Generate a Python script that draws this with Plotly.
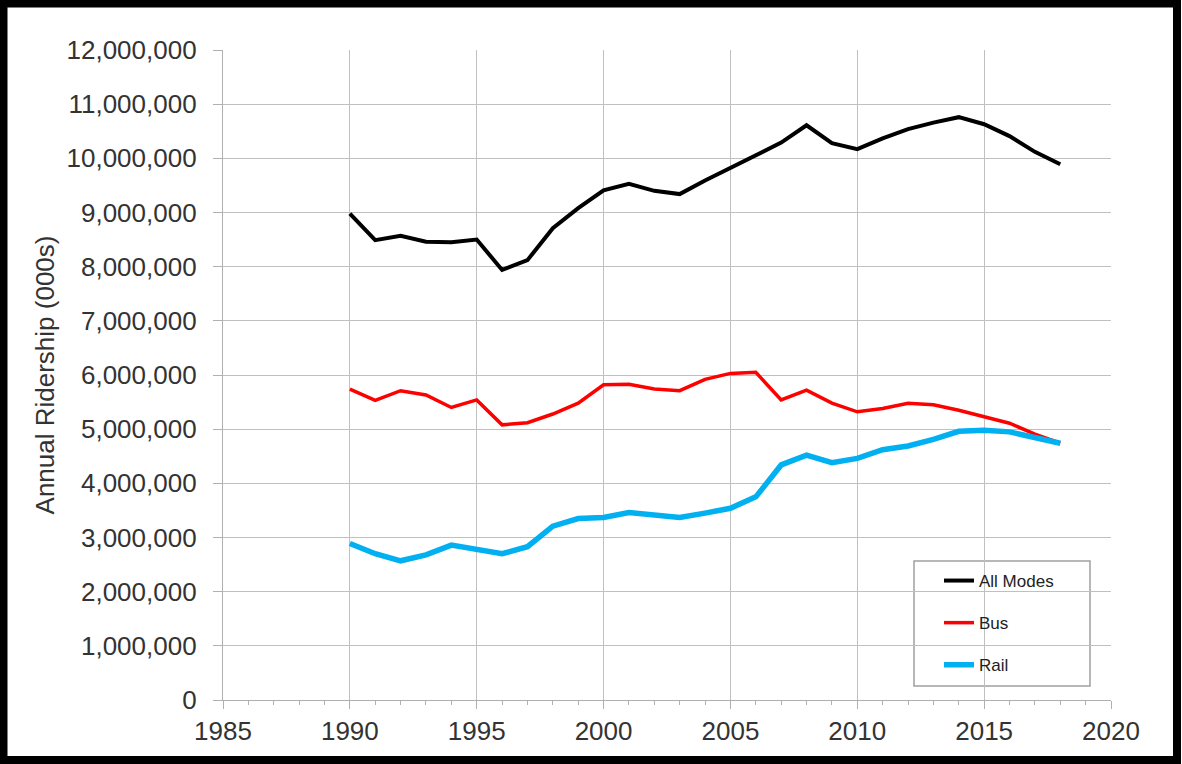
import plotly.graph_objects as go

years = list(range(1990, 2019))
all_modes = [8.98, 8.49, 8.57, 8.46, 8.45, 8.50, 7.94, 8.12, 8.71, 9.08,
             9.41, 9.53, 9.40, 9.34, 9.59, 9.82, 10.04, 10.29, 10.61, 10.28,
             10.17, 10.37, 10.54, 10.66, 10.76, 10.63, 10.41, 10.12, 9.89]
bus = [5.74, 5.53, 5.71, 5.63, 5.40, 5.54, 5.08, 5.12, 5.28, 5.48,
       5.82, 5.83, 5.74, 5.71, 5.92, 6.03, 6.05, 5.54, 5.72, 5.48,
       5.32, 5.38, 5.48, 5.45, 5.35, 5.23, 5.11, 4.91, 4.74]
rail = [2.89, 2.70, 2.57, 2.68, 2.86, 2.77, 2.70, 2.83, 3.21, 3.35,
        3.37, 3.46, 3.42, 3.37, 3.45, 3.54, 3.75, 4.34, 4.52, 4.38,
        4.46, 4.62, 4.69, 4.81, 4.96, 4.98, 4.95, 4.85, 4.74]
series_names = ["All Modes", "Bus", "Rail"]
y_title = "Annual Ridership (000s)"

M = 1_000_000
W, H = 1182, 764
L, R, T, B = 223, 71, 50, 64
PW, PH = W - L - R, H - T - B

def px(x):
    return (x - L) / PW

def py(y):
    return (H - B - y) / PH

fig = go.Figure()
styles = [("#000000", 4), ("#ff0000", 3.5), ("#00b0f0", 5.5)]
for i, (name, vals) in enumerate(zip(series_names, [all_modes, bus, rail])):
    c, w = styles[i]
    fig.add_trace(go.Scatter(
        x=years, y=[v * M for v in vals], mode="lines", name=name,
        line=dict(color=c, width=w), legendgroup=name,
    ))

font_family = "Liberation Sans, Arial, sans-serif"
grid = "#c0c0c0"
fig.update_layout(
    width=W, height=H,
    margin=dict(l=L, r=R, t=T, b=B, pad=0),
    paper_bgcolor="white", plot_bgcolor="white",
    font=dict(family=font_family, color="#333333"),
    showlegend=True,
    legend=dict(
        x=px(939), y=py(563), xanchor="left", yanchor="top",
        bgcolor="rgba(0,0,0,0)", borderwidth=0,
        font=dict(size=17, color="#222222"),
        tracegroupgap=17,
    ),
    xaxis=dict(
        range=[1985, 2020], dtick=5, tick0=1985,
        showgrid=True, gridcolor=grid, gridwidth=1.3,
        showline=True, linecolor="#b0b0b0", linewidth=1.3,
        ticks="outside", ticklen=8, tickcolor="#b0b0b0", tickwidth=1.3,
        tickfont=dict(size=26, color="#333333"),
        minor=dict(dtick=1, ticks="outside", ticklen=4, tickcolor="#b0b0b0",
                   tickwidth=1.3, showgrid=False),
        zeroline=False, fixedrange=True,
    ),
    yaxis=dict(
        range=[0, 12 * M], dtick=M, tick0=0,
        tickformat=",d",
        showgrid=True, gridcolor=grid, gridwidth=1.3,
        showline=True, linecolor="#b0b0b0", linewidth=1.3,
        ticks="outside", ticklen=9, tickcolor="#b0b0b0", tickwidth=1.3,
        tickfont=dict(size=26, color="#333333"),
        ticklabelstandoff=11,
        title=dict(text=y_title, font=dict(size=26, color="#333333"), standoff=4),
        zeroline=False, fixedrange=True,
    ),
    shapes=[
        dict(type="rect", xref="paper", yref="paper",
             x0=px(914), x1=px(1090), y0=py(686), y1=py(561),
             line=dict(color="#a0a0a0", width=1.5), fillcolor="white", layer="below"),
        dict(type="rect", xref="paper", yref="paper",
             x0=px(3.5), x1=px(1177), y0=py(760), y1=py(3.5),
             line=dict(color="black", width=8), fillcolor="rgba(0,0,0,0)"),
    ],
)

fig.write_html(
    "out.html",
    config={"displayModeBar": False},
    post_script="document.body.style.margin='0';document.body.style.overflow='hidden';",
)
